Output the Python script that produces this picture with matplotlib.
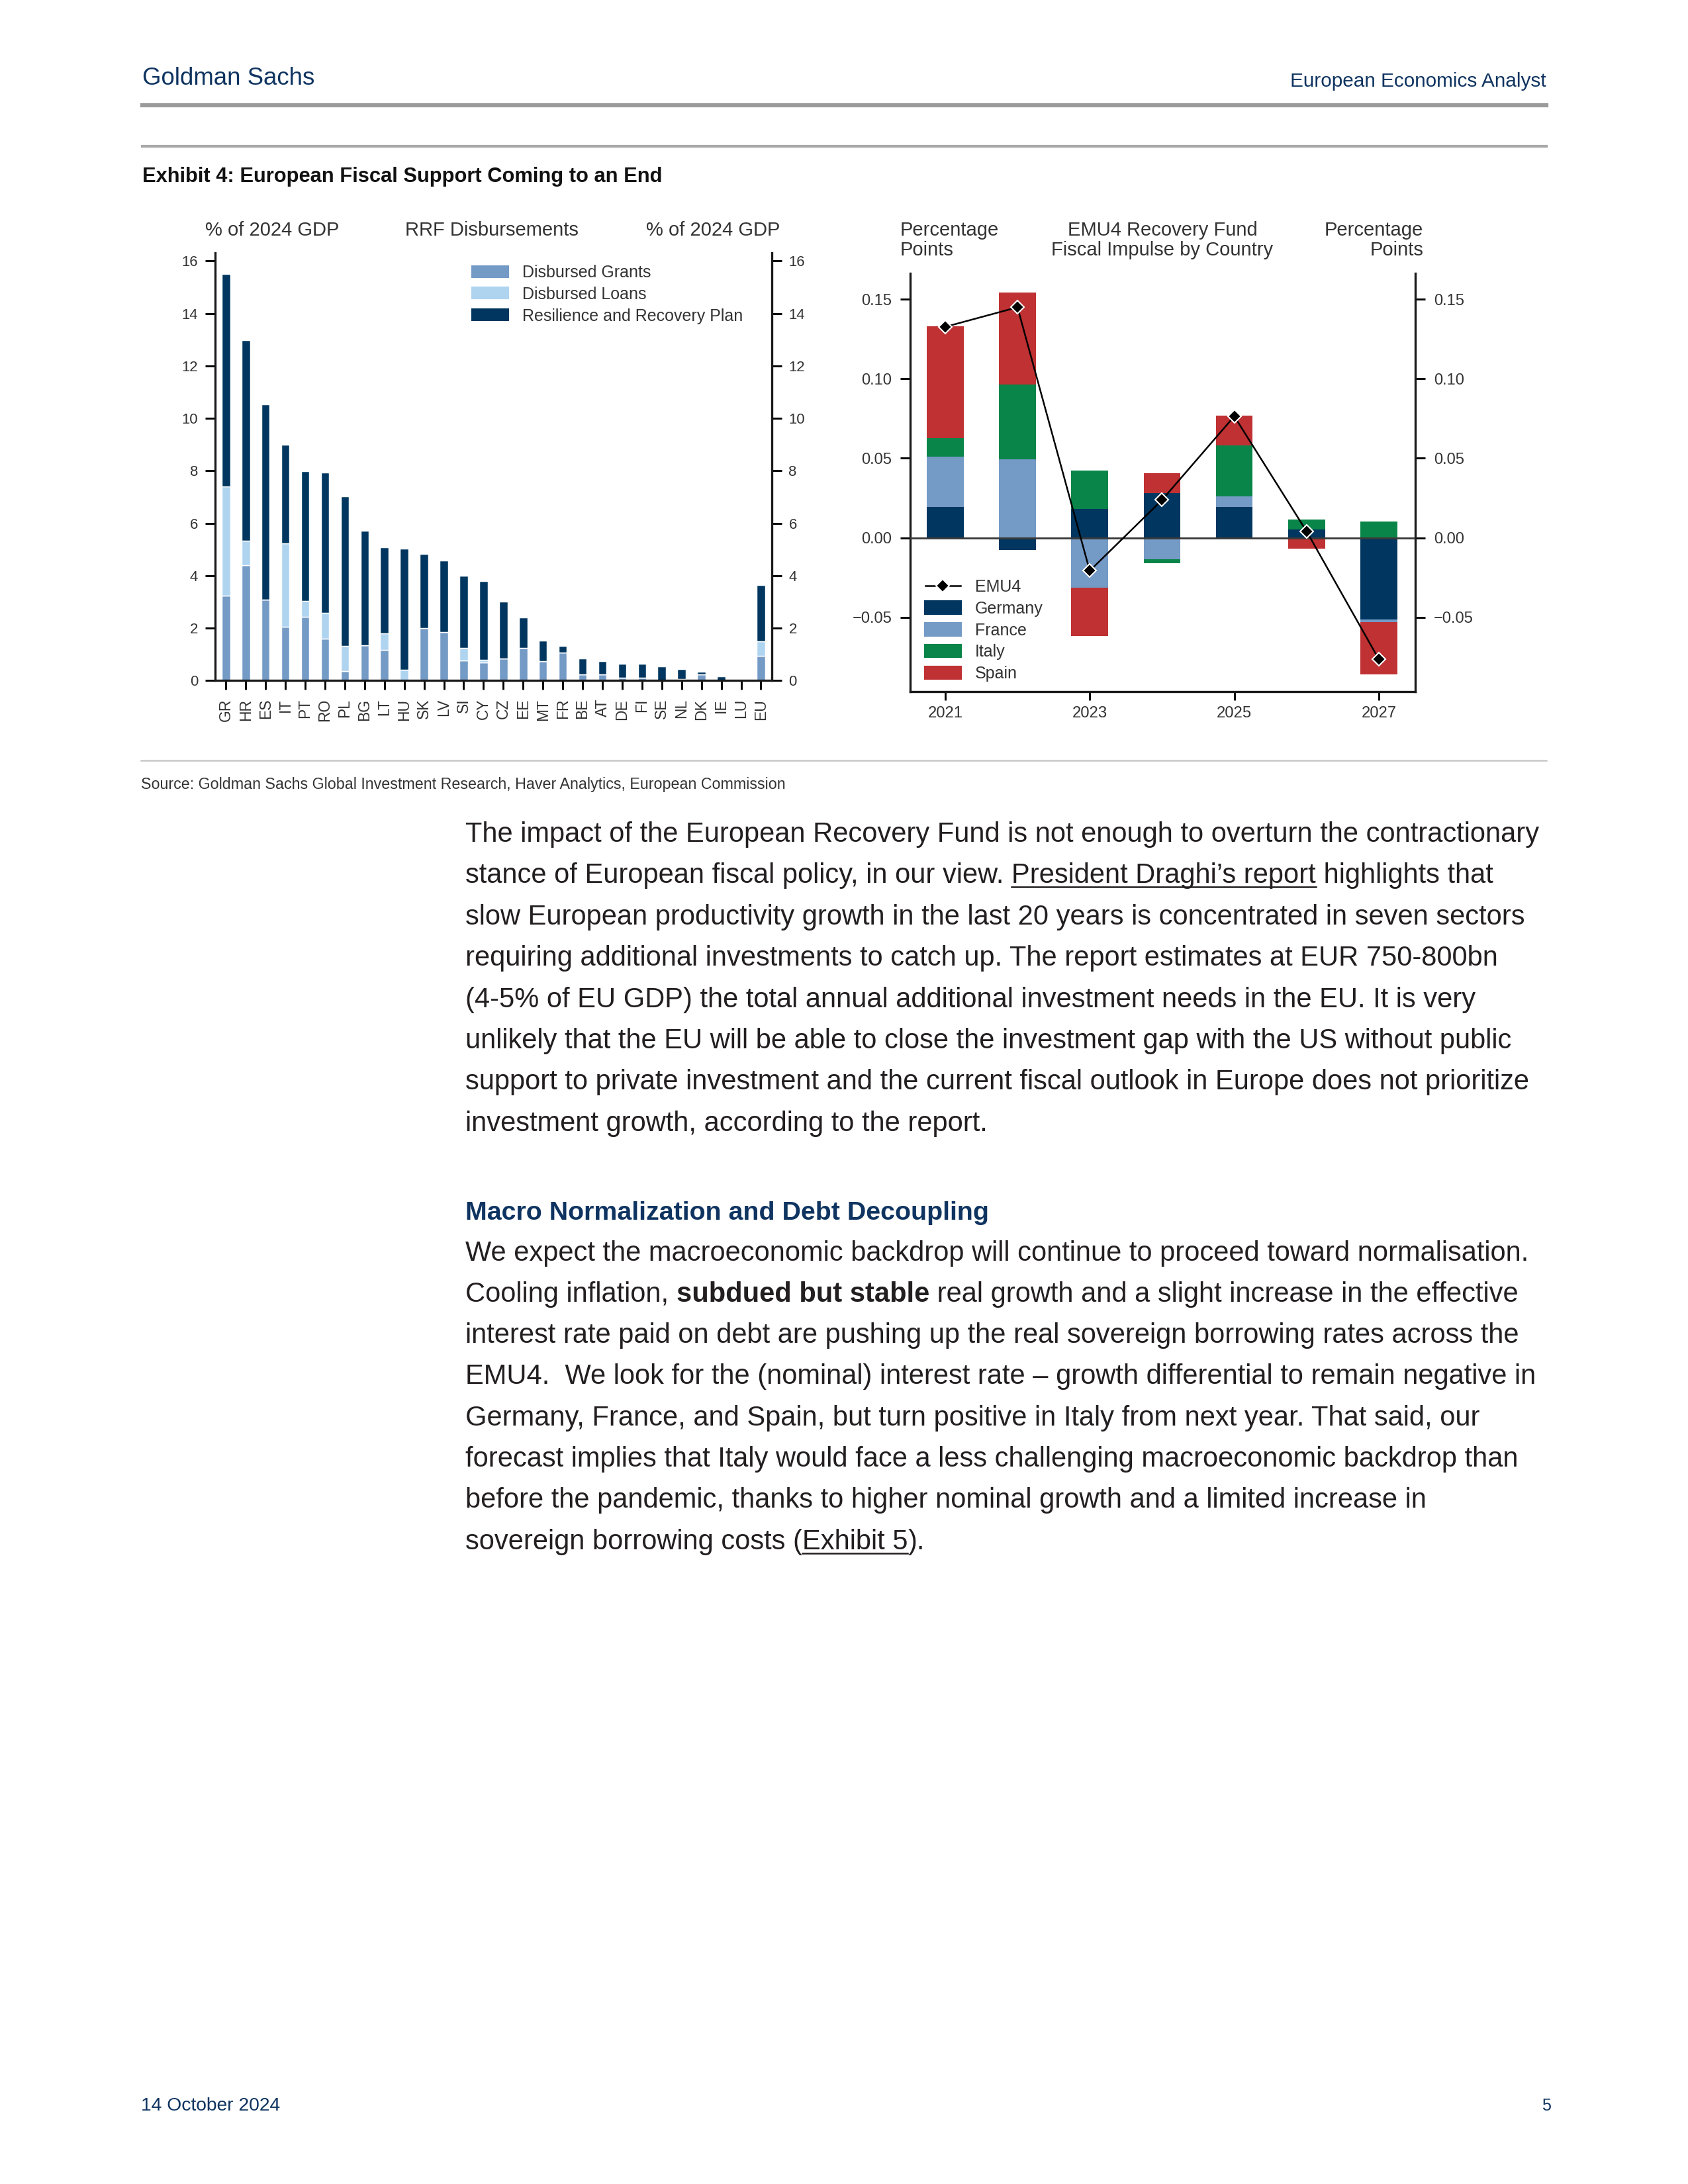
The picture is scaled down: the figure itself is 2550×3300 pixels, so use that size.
import numpy as np
import matplotlib
matplotlib.use('Agg')
import matplotlib.pyplot as plt
from matplotlib.lines import Line2D
from matplotlib.patches import Patch
from matplotlib.font_manager import FontProperties

W, H = 2550, 3300

# ---- left chart: RRF disbursements, % of 2024 GDP
countries = ['GR', 'HR', 'ES', 'IT', 'PT', 'RO', 'PL', 'BG', 'LT', 'HU', 'SK', 'LV', 'SI', 'CY',
             'CZ', 'EE', 'MT', 'FR', 'BE', 'AT', 'DE', 'FI', 'SE', 'NL', 'DK', 'IE', 'LU', 'EU']
grants = [3.25, 4.39, 3.08, 2.04, 2.42, 1.59, 0.35, 1.34, 1.16, 0.00, 2.00, 1.84, 0.76, 0.70,
          0.85, 1.24, 0.75, 1.06, 0.23, 0.23, 0.12, 0.12, 0.00, 0.07, 0.23, 0.00, 0.00, 0.95]
loans = [4.15, 0.95, 0.00, 3.19, 0.62, 1.00, 0.96, 0.00, 0.65, 0.42, 0.00, 0.00, 0.48, 0.10,
         0.00, 0.00, 0.00, 0.00, 0.00, 0.00, 0.00, 0.00, 0.00, 0.00, 0.00, 0.00, 0.00, 0.54]
plan_total = [15.50, 12.98, 10.53, 9.00, 7.98, 7.92, 7.02, 5.71, 5.08, 5.03, 4.82, 4.57, 3.99, 3.79,
              3.01, 2.40, 1.53, 1.32, 0.84, 0.74, 0.64, 0.64, 0.54, 0.44, 0.34, 0.16, 0.00, 3.64]
left_yticks = [0, 2, 4, 6, 8, 10, 12, 14, 16]

# ---- right chart: EMU4 recovery fund fiscal impulse, pp
years = [2021, 2022, 2023, 2024, 2025, 2026, 2027]
germany = [0.0193, -0.0076, 0.0183, 0.0280, 0.0193, 0.0053, -0.0514]
france = [0.0318, 0.0494, -0.0315, -0.0136, 0.0066, 0.0000, -0.0017]
italy = [0.0114, 0.0469, 0.0240, -0.0024, 0.0320, 0.0063, 0.0104]
spain = [0.0706, 0.0577, -0.0303, 0.0126, 0.0190, -0.0067, -0.0326]
emu4 = [0.1326, 0.1449, -0.0207, 0.0238, 0.0764, 0.0042, -0.0762]
right_yticks = [-0.05, 0.0, 0.05, 0.10, 0.15]
right_xticks = [2021, 2023, 2025, 2027]

para1 = [
    [("The impact of the European Recovery Fund is not enough to overturn the contractionary", "")],
    [("stance of European fiscal policy, in our view. ", ""), ("President Draghi\u2019s report", "u"),
     (" highlights that", "")],
    [("slow European productivity growth in the last 20 years is concentrated in seven sectors", "")],
    [("requiring additional investments to catch up. The report estimates at EUR 750-800bn", "")],
    [("(4-5% of EU GDP) the total annual additional investment needs in the EU. It is very", "")],
    [("unlikely that the EU will be able to close the investment gap with the US without public", "")],
    [("support to private investment and the current fiscal outlook in Europe does not prioritize", "")],
    [("investment growth, according to the report.", "")],
]
para2 = [
    [("We expect the macroeconomic backdrop will continue to proceed toward normalisation.", "")],
    [("Cooling inflation, ", ""), ("subdued but stable", "b"),
     (" real growth and a slight increase in the effective", "")],
    [("interest rate paid on debt are pushing up the real sovereign borrowing rates across the", "")],
    [("EMU4.  We look for the (nominal) interest rate \u2013 growth differential to remain negative in", "")],
    [("Germany, France, and Spain, but turn positive in Italy from next year. That said, our", "")],
    [("forecast implies that Italy would face a less challenging macroeconomic backdrop than", "")],
    [("before the pandemic, thanks to higher nominal growth and a limited increase in", "")],
    [("sovereign borrowing costs (", ""), ("Exhibit 5", "u"), (").", "")],
]

FONT = ['Liberation Sans', 'DejaVu Sans']
plt.rcParams['font.family'] = FONT
plt.rcParams['axes.unicode_minus'] = True

NAVY = '#0f3461'
TXT = '#231f20'
AX = '#333333'
C_GRANT = '#749ac6'
C_LOAN = '#afd4f0'
C_PLAN = '#00365f'
C_DE = '#00365f'
C_FR = '#749ac6'
C_IT = '#098549'
C_ES = '#bf3133'


def fx(px):
    return px / W


def fy(py):
    return 1 - py / H


fig = plt.figure(figsize=(8.5, 11), dpi=300)
renderer = fig.canvas.get_renderer()


def fit_text(x, y, s, width_px, ha='left', **kw):
    t = fig.text(fx(x), fy(y), s, fontsize=10, ha=ha, va='baseline', **kw)
    w = t.get_window_extent(renderer).width
    t.set_fontsize(10 * width_px / w)
    return t


def advance(s, size, weight='normal'):
    fp = FontProperties(family=FONT, size=size, weight=weight)
    w1, _, _ = renderer.get_text_width_height_descent(s + '|', fp, ismath=False)
    w2, _, _ = renderer.get_text_width_height_descent('|', fp, ismath=False)
    return w1 - w2


def body_line(x, y, parts, size):
    for s, st in parts:
        weight = 'bold' if st == 'b' else 'normal'
        fig.text(fx(x), fy(y), s, fontsize=size, weight=weight, color=TXT, va='baseline')
        a = advance(s, size, weight)
        if st == 'u':
            fig.add_artist(Line2D([fx(x), fx(x + a)], [fy(y + 6)] * 2, color=TXT, lw=0.6))
        x += a


# ---- page furniture
fit_text(215, 128, 'Goldman Sachs', 260, color=NAVY)
fit_text(2336, 131, 'European Economics Analyst', 386, ha='right', color=NAVY)
fig.add_artist(Line2D([fx(215), fx(2336)], [fy(159)] * 2, color='#9b9b9b', lw=1.5))
fig.add_artist(Line2D([fx(215), fx(2336)], [fy(221)] * 2, color='#a8a8a8', lw=1.0))
fit_text(215, 275, 'Exhibit 4: European Fiscal Support Coming to an End', 786, weight='bold', color='#111111')
fig.add_artist(Line2D([fx(213), fx(2336)], [fy(1149)] * 2, color='#c8c8c8', lw=0.6))
fit_text(213, 1192, 'Source: Goldman Sachs Global Investment Research, Haver Analytics, European Commission',
         973, color='#333333')

# body text, size fitted on the first line
body_size = 10 * 1621 / advance(para1[0][0][0], 10)
for i, parts in enumerate(para1):
    body_line(703, 1272 + i * 62.4, parts, body_size)
fit_text(703, 1843, 'Macro Normalization and Debt Decoupling', 793, weight='bold', color=NAVY)
for i, parts in enumerate(para2):
    body_line(703, 1904.5 + i * 62.3, parts, body_size)

fit_text(213, 3189, '14 October 2024', 211, color=NAVY)
fit_text(2343, 3189, '5', 14, ha='right', color=NAVY)

# ---- left chart
axL = fig.add_axes([fx(325), fy(1028.3), fx(1165.6) - fx(325), (1028.3 - 382) / H])
xi = np.arange(len(countries))
g = np.array(grants)
l = np.array(loans)
rest = np.clip(np.array(plan_total) - g - l, 0, None)
bw = 0.42
axL.bar(xi, g, width=bw, color=C_GRANT, edgecolor='white', linewidth=0.35)
axL.bar(xi, l, bottom=g, width=bw, color=C_LOAN, edgecolor='white', linewidth=0.35)
axL.bar(xi, rest, bottom=g + l, width=bw, color=C_PLAN, edgecolor='white', linewidth=0.35)
axL.set_xlim(-0.545, 27.54)
axL.set_ylim(0, 16.31)
axL.set_yticks(left_yticks)
axL.set_xticks(xi)
axL.set_xticklabels(countries, rotation=90, fontsize=5.5, color=AX)
axL.spines['top'].set_visible(False)
for sp in ['left', 'right', 'bottom']:
    axL.spines[sp].set_linewidth(0.8)
    axL.spines[sp].set_color('#1a1a1a')
axL.tick_params(axis='y', left=True, right=True, labelleft=True, labelright=True, direction='out',
                length=3.6, width=0.7, labelsize=5.3, labelcolor=AX, pad=2.6)
axL.tick_params(axis='x', direction='out', length=3.4, width=0.7, pad=3.2)

for s, xc in [('% of 2024 GDP', 411), ('RRF Disbursements', 743), ('% of 2024 GDP', 1077)]:
    fig.text(fx(xc), fy(348), s, fontsize=7, color=AX, ha='center', va='center')

hL = [Patch(color=C_GRANT), Patch(color=C_LOAN), Patch(color=C_PLAN)]
axL.legend(hL, ['Disbursed Grants', 'Disbursed Loans', 'Resilience and Recovery Plan'],
           loc='upper left', bbox_to_anchor=(fx(714), fy(400)), bbox_transform=fig.transFigure,
           frameon=False, fontsize=6, handlelength=2.1, handleheight=0.55, handletextpad=0.9,
           labelspacing=0.35, borderpad=0, borderaxespad=0, labelcolor=AX)

# ---- right chart
axR = fig.add_axes([fx(1375), fy(1045), fx(2138.2) - fx(1375), (1045 - 413.3) / H])
pos = np.zeros(len(years))
neg = np.zeros(len(years))
for vals, col in [(germany, C_DE), (france, C_FR), (italy, C_IT), (spain, C_ES)]:
    v = np.array(vals)
    bottoms = np.where(v >= 0, pos, neg)
    axR.bar(years, v, bottom=bottoms, width=0.51, color=col, linewidth=0, zorder=2)
    pos = pos + np.where(v >= 0, v, 0)
    neg = neg + np.where(v < 0, v, 0)
axR.axhline(0, color='#3a3a3a', lw=0.7, zorder=3)
axR.plot(years, emu4, color='black', lw=0.6, marker='D', ms=3.4, mfc='black', mec='white', mew=0.5,
         zorder=5)
axR.set_xlim(2020.515, 2027.507)
axR.set_ylim(-0.0966, 0.1661)
axR.set_yticks(right_yticks)
axR.set_yticklabels(['{:.2f}'.format(v).replace('-', '\u2212') for v in right_yticks])
axR.set_xticks(right_xticks)
axR.spines['top'].set_visible(False)
for sp in ['left', 'right', 'bottom']:
    axR.spines[sp].set_linewidth(0.8)
    axR.spines[sp].set_color('#1a1a1a')
axR.tick_params(axis='y', left=True, right=True, labelleft=True, labelright=True, direction='out',
                length=3.6, width=0.7, labelsize=5.7, labelcolor=AX, pad=3)
axR.tick_params(axis='x', direction='out', length=3.2, width=0.7, labelsize=5.7, labelcolor=AX, pad=2)

fig.text(fx(1360), fy(348), 'Percentage', fontsize=7, color=AX, ha='left', va='center')
fig.text(fx(1360), fy(378), 'Points', fontsize=7, color=AX, ha='left', va='center')
fig.text(fx(1756), fy(348), 'EMU4 Recovery Fund', fontsize=7, color=AX, ha='center', va='center')
fig.text(fx(1756), fy(378), 'Fiscal Impulse by Country', fontsize=7, color=AX, ha='center', va='center')
fig.text(fx(2150), fy(348), 'Percentage', fontsize=7, color=AX, ha='right', va='center')
fig.text(fx(2150), fy(378), 'Points', fontsize=7, color=AX, ha='right', va='center')

hR = [Line2D([], [], color='black', lw=0.6, marker='D', ms=3.4, mfc='black', mec='white', mew=0.5),
      Patch(color=C_DE), Patch(color=C_FR), Patch(color=C_IT), Patch(color=C_ES)]
axR.legend(hR, ['EMU4', 'Germany', 'France', 'Italy', 'Spain'],
           loc='upper left', bbox_to_anchor=(fx(1398), fy(875)), bbox_transform=fig.transFigure,
           frameon=False, fontsize=6, handlelength=2.1, handleheight=0.7, handletextpad=0.9,
           labelspacing=0.35, borderpad=0, borderaxespad=0, labelcolor=AX)

fig.savefig('out.png', dpi=300)
